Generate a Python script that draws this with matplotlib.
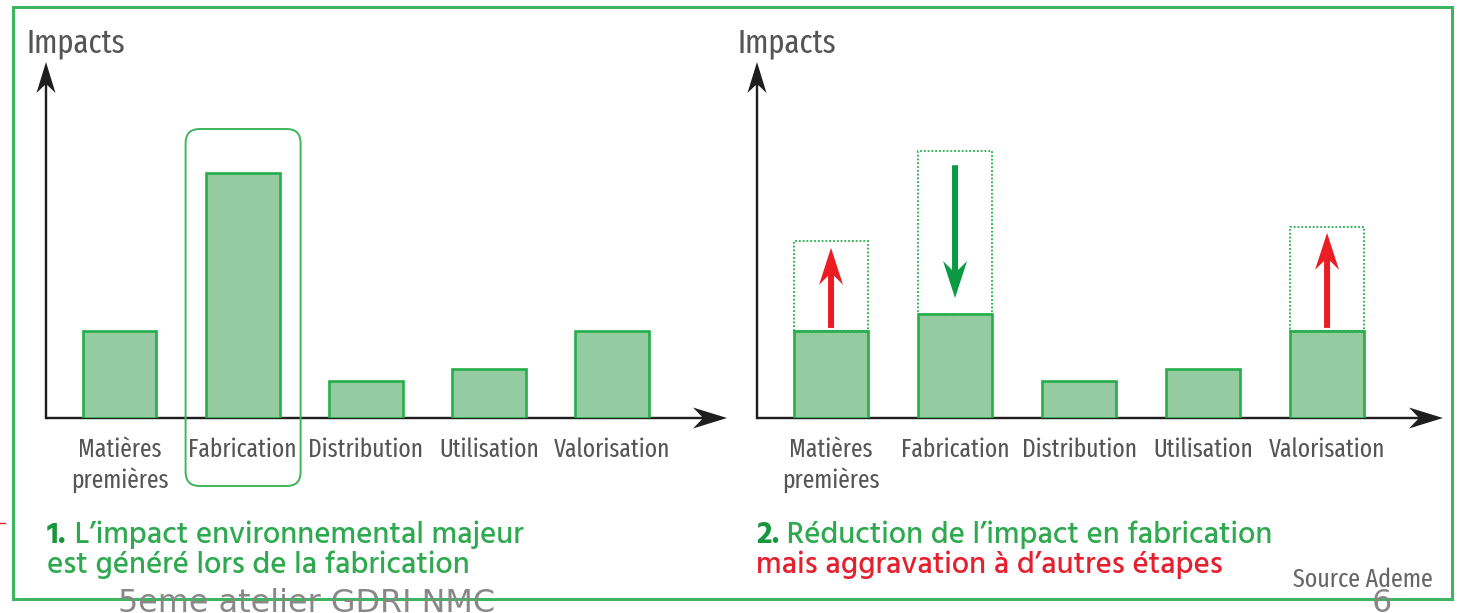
import matplotlib
matplotlib.use("Agg")
import matplotlib.pyplot as plt
import numpy as np
from matplotlib.patches import Rectangle, FancyBboxPatch, Polygon

# ---------------- data ----------------
categories = ["Matières\npremières", "Fabrication", "Distribution", "Utilisation", "Valorisation"]
impacts_before = [2.44, 6.88, 1.04, 1.38, 2.44]          # panel 1
impacts_after = [2.44, 2.92, 1.04, 1.38, 2.44]           # panel 2
changed_idx = [0, 1, 4]                                   # stages whose impact changed
previous_level = [4.97, 7.50, 5.37]                       # dotted boxes (other level)
arrow_from = [2.53, 7.10, 2.53]
arrow_to = [4.78, 3.37, 5.20]
arrow_colors = ["#ec1c24", "#0a9a44", "#ec1c24"]
y_label = "Impacts"
caption1 = ["1.", " L’impact environnemental majeur", "est généré lors de la fabrication"]
caption2 = ["2.", " Réduction de l’impact en fabrication", "mais aggravation à d’autres étapes"]
source = "Source Ademe"
footer = "5eme atelier GDRI NMC"
page = "6"

# ---------------- style ----------------
W, H = 1458, 613
BAR_FILL = "#94cba0"
BAR_EDGE = "#25ae4a"
GREEN_TXT = "#2ea94f"
GREEN_DARK = "#17963d"
RED_TXT = "#e5202e"
GRAY = "#555555"
AX_COL = "#1e1e1e"
LABEL_FONT = ["Fira Sans Extra Condensed", "PT Sans Narrow", "DejaVu Sans"]
CAP_FONT = ["Hind", "Open Sans", "DejaVu Sans"]

fig = plt.figure(figsize=(W / 100, H / 100), dpi=100, facecolor="white")
ov = fig.add_axes([0, 0, 1, 1])
ov.set_xlim(0, W)
ov.set_ylim(H, 0)
ov.axis("off")
renderer = fig.canvas.get_renderer()


def fit(t, target):
    w = t.get_window_extent(renderer).width
    t.set_fontsize(t.get_fontsize() * target / w)
    return t.get_fontsize()


def disp_to_ov(p):
    return np.array([p[0], H - p[1]])


def stealth(p0, p1, color, shaft, head_len, head_w, notch, z=5):
    """arrow polygon in overlay pixel coords"""
    p0 = np.asarray(p0, float)
    p1 = np.asarray(p1, float)
    d = (p1 - p0) / np.linalg.norm(p1 - p0)
    n = np.array([-d[1], d[0]])
    base = p1 - d * head_len
    nb = base + d * notch
    pts = [p0 + n * shaft / 2, nb + n * shaft / 2, base + n * head_w / 2, p1,
           base - n * head_w / 2, nb - n * shaft / 2, p0 - n * shaft / 2]
    ov.add_patch(Polygon(pts, closed=True, facecolor=color, edgecolor="none", zorder=z))


# outer border
ov.add_patch(Rectangle((13, 7), 1439, 592, fill=False, edgecolor="#3fb55f", lw=2.2, zorder=1))
ov.plot([0, 5], [523, 523], color="#e5202e", lw=1, zorder=1)

BASE_Y = 418
TOP_Y = 62
XLIM = (-0.597, 4.935)

# font sizes fitted to measured widths
tmp = ov.text(0, 0, "Distribution", family=LABEL_FONT, fontsize=20)
label_size = fit(tmp, 115)
tmp.remove()
tmp = ov.text(0, 0, y_label, family=LABEL_FONT, fontsize=20)
ylab_size = fit(tmp, 99)
tmp.remove()


def panel(x0, x1, values):
    ax = fig.add_axes([x0 / W, (H - BASE_Y) / H, (x1 - x0) / W, (BASE_Y - TOP_Y) / H])
    ax.set_xlim(*XLIM)
    ax.set_ylim(0, 10)
    ax.axis("off")
    ax.bar(range(len(values)), values, width=0.6, color=BAR_FILL, edgecolor=BAR_EDGE,
           linewidth=1.9, zorder=3)
    # axes arrows
    o = disp_to_ov(ax.transData.transform((XLIM[0], 0)))
    xe = disp_to_ov(ax.transData.transform((XLIM[1], 0)))
    ye = disp_to_ov(ax.transData.transform((XLIM[0], 10)))
    stealth(o, xe, AX_COL, 2.4, 34, 21, 9)
    stealth(o + [0, 1.2], ye, AX_COL, 2.4, 31, 19, 8)
    # category labels
    for i, c in enumerate(categories):
        p = disp_to_ov(ax.transData.transform((i, 0)))
        for j, line in enumerate(c.split("\n")):
            ov.text(p[0], 457 + 31 * j, line, ha="center", va="baseline", color=GRAY,
                    family=LABEL_FONT, fontsize=label_size)
    ov.text(x0 - 19, 52, y_label, ha="left", va="baseline", color=GRAY,
            family=LABEL_FONT, fontsize=ylab_size)
    return ax


ax1 = panel(46, 727, impacts_before)
ax2 = panel(757, 1443, impacts_after)

# highlight around Fabrication in panel 1
pc = disp_to_ov(ax1.transData.transform((1, 0)))
ov.add_patch(FancyBboxPatch((pc[0] - 57, 129), 115, 357,
                            boxstyle="round,pad=0,rounding_size=14",
                            fill=False, edgecolor="#3db55c", lw=1.4, zorder=6))

# dotted boxes and arrows in panel 2
for k, i in enumerate(changed_idx):
    lo, hi = sorted([impacts_after[i], previous_level[k]])
    ax2.add_patch(Rectangle((i - 0.3, lo), 0.6, hi - lo, fill=False, edgecolor=BAR_EDGE,
                            lw=1.3, linestyle=(0, (1, 1.1)), zorder=2))
    a = disp_to_ov(ax2.transData.transform((i, arrow_from[k])))
    b = disp_to_ov(ax2.transData.transform((i, arrow_to[k])))
    stealth(a, b, arrow_colors[k], 6, 37, 24, 9, z=7)

# captions
CAP_W = "medium"
tmp = ov.text(0, 0, caption1[0] + caption1[1], family=CAP_FONT, fontsize=20, weight=CAP_W)
cap_size = fit(tmp, 473)
tmp.remove()


def caption(x, lines, col2):
    t = ov.text(x, 543, lines[0], family=CAP_FONT, fontsize=cap_size, weight="bold",
                color=GREEN_DARK, va="baseline")
    w = t.get_window_extent(renderer).width
    ov.text(x + w, 543, lines[1], family=CAP_FONT, fontsize=cap_size, weight=CAP_W,
            color=GREEN_TXT, va="baseline")
    ov.text(x, 573, lines[2], family=CAP_FONT, fontsize=cap_size, weight=CAP_W,
            color=col2, va="baseline")


caption(47, caption1, GREEN_TXT)
caption(756, caption2, RED_TXT)

t = ov.text(1293, 587, source, family=LABEL_FONT, fontsize=14, color="#666666", va="baseline")
fit(t, 140)

t = ov.text(118, 588, footer, family="DejaVu Sans", fontsize=20, color="#888888", va="top", zorder=8)
fs = fit(t, 377)
ov.text(1372, 588, page, family="DejaVu Sans", fontsize=fs, color="#888888", va="top", zorder=8)

fig.savefig("out.png", dpi=100, facecolor="white")
